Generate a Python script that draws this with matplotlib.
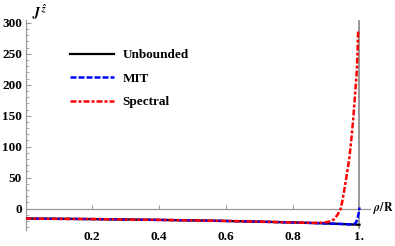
import matplotlib.pyplot as plt
import numpy as np

# data
rho_unb = [0.0, 0.1, 0.2, 0.3, 0.4, 0.5, 0.6, 0.7, 0.8, 0.9, 0.95, 1.0]
j_unb = [-16.0, -16.3, -16.8, -17.4, -18.1, -18.9, -19.8, -20.9, -22.2, -23.8, -24.8, -26.0]

rho_mit = [0.0, 0.2, 0.4, 0.6, 0.8, 0.9, 0.95, 0.975, 0.985, 0.99, 0.995, 0.998, 1.0]
j_mit = [-16.0, -16.8, -18.1, -19.8, -22.2, -23.8, -24.8, -25.4, -24.5, -22.0, -14.0, -6.0, 2.0]

rho_spec = [0.0, 0.2, 0.4, 0.6, 0.8, 0.86, 0.89, 0.905, 0.915, 0.924, 0.934, 0.944, 0.950,
            0.956, 0.962, 0.969, 0.975, 0.981, 0.986, 0.990, 0.992, 0.994, 0.996]
j_spec = [-16.0, -16.8, -18.1, -19.8, -22.2, -23.0, -22.5, -21.5, -20.0, -17.0, -10.0, 0.0, 16.0,
          35.0, 55.0, 79.0, 108.0, 143.0, 178.0, 207.0, 223.0, 250.0, 287.0]

xticks = [0.2, 0.4, 0.6, 0.8, 1.0]
xticklabels = ['0.2', '0.4', '0.6', '0.8', '1.']
yticks = [0, 50, 100, 150, 200, 250, 300]

plt.rcParams['font.family'] = ['Liberation Serif', 'DejaVu Serif']
plt.rcParams['font.weight'] = 'bold'
plt.rcParams['mathtext.fontset'] = 'stix'

fig = plt.figure(figsize=(3.95, 2.46), dpi=100)
ax = fig.add_axes([25.5 / 395, 16 / 246, 344 / 395, 210 / 246])
ax.set_xlim(0, 1.03)
ax.set_ylim(-34.4, 304.4)

gray = '#9a9a9a'
for s in ['top', 'right']:
    ax.spines[s].set_visible(False)
ax.spines['bottom'].set_position(('data', 0))
ax.spines['bottom'].set_color(gray)
ax.spines['left'].set_color(gray)
ax.spines['bottom'].set_linewidth(0.9)
ax.spines['left'].set_linewidth(0.9)

ax.axvline(1.0, ymin=0.01, ymax=(302 + 34.4) / 338.8, color='#888888', lw=1.2, zorder=1)

ax.plot(rho_unb, j_unb, color='black', lw=1.6, zorder=2, label='Unbounded')
ax.plot(rho_mit, j_mit, color='blue', lw=1.8, dashes=(2.4, 0.8), zorder=3, label='MIT')
ax.plot(rho_spec, j_spec, color='red', lw=1.8, dashes=(2.4, 0.8, 1.2, 0.8), zorder=4,
        label='Spectral')

ax.set_xticks(xticks)
ax.set_xticklabels(xticklabels)
ax.set_yticks(yticks)
ax.set_yticks(np.arange(-30, 301, 10), minor=True)
ax.tick_params(axis='x', direction='in', length=3, width=0.8, color=gray, pad=16,
               labelsize=9.5)
ax.tick_params(axis='y', which='major', direction='in', length=3.5, width=0.8, color=gray,
               pad=2.5, labelsize=9.5)
ax.tick_params(axis='y', which='minor', direction='in', length=2, width=0.6, color=gray)
for lab in ax.get_xticklabels() + ax.get_yticklabels():
    lab.set_fontweight('bold')

fig.text(373 / 395, 1 - 208 / 246, r'$\rho/\mathrm{R}$', fontsize=8.5, va='center',
         ha='left')
fig.text(32 / 395, 1 - 12 / 246, r'$J^{\hat{z}}$', fontsize=10, va='center', ha='left')

leg = ax.legend(loc='upper left', bbox_to_anchor=(70 / 395, 1 - 49 / 246),
                bbox_transform=fig.transFigure, frameon=False, borderpad=0,
                borderaxespad=0, handlelength=3.3, handletextpad=0.7, labelspacing=0.85,
                prop={'family': 'Liberation Serif', 'weight': 'bold', 'size': 9.5})

fig.savefig('out.png', dpi=100)
